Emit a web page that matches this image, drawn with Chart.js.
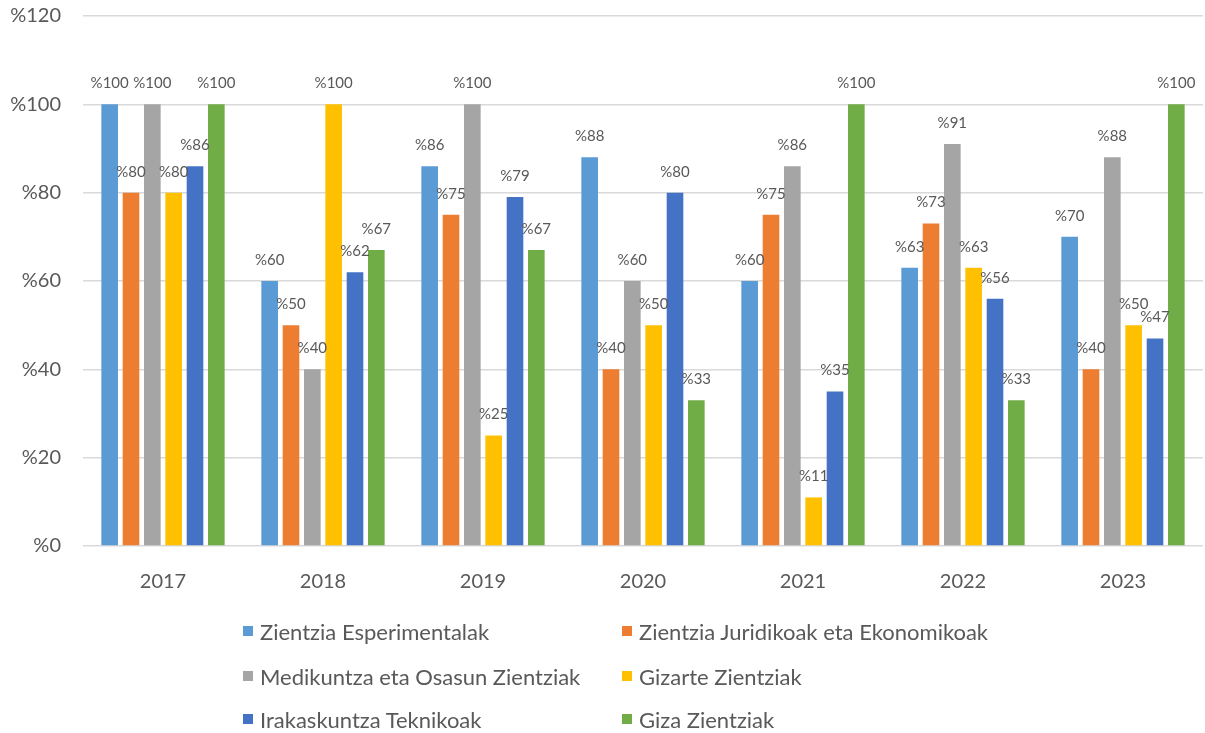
<!DOCTYPE html>
<html>
<head>
<meta charset="utf-8">
<script src="https://cdn.jsdelivr.net/npm/chart.js@4.4.1/dist/chart.umd.min.js"></script>
<style>
  html, body { margin: 0; padding: 0; background: #fff; }
  #wrap { position: relative; width: 1205px; height: 733px; }
  #legend { position: absolute; left: 0; top: 0; width: 1205px; height: 733px; pointer-events: none; }
  .item { position: absolute; display: flex; align-items: center; font-family: Lato, "Open Sans", sans-serif; font-size: 22px; color: #595959; white-space: nowrap; }
  .item span.box { display: inline-block; width: 10px; height: 10px; margin-right: 7px; }
</style>
</head>
<body>
<div id="wrap">
  <canvas id="chart" width="1205" height="733"></canvas>
  <div id="legend"></div>
</div>
<script>
// datos
const years = ['2017', '2018', '2019', '2020', '2021', '2022', '2023'];
const seriesNames = [
  'Zientzia Esperimentalak',
  'Zientzia Juridikoak eta Ekonomikoak',
  'Medikuntza eta Osasun Zientziak',
  'Gizarte Zientziak',
  'Irakaskuntza Teknikoak',
  'Giza Zientziak'
];
const esperimentalak = [100, 60, 86, 88, 60, 63, 70];
const juridikoak     = [80, 50, 75, 40, 75, 73, 40];
const medikuntza     = [100, 40, 100, 60, 86, 91, 88];
const gizarte        = [80, 100, 25, 50, 11, 63, 50];
const irakaskuntza   = [86, 62, 79, 80, 35, 56, 47];
const giza           = [100, 67, 67, 33, 100, 33, 100];
const yTicks = [0, 20, 40, 60, 80, 100, 120];

const colors = ['#5B9BD5', '#ED7D31', '#A5A5A5', '#FFC000', '#4472C4', '#70AD47'];
const allSeries = [esperimentalak, juridikoak, medikuntza, gizarte, irakaskuntza, giza];

const textColor = '#595959';
const fontFamily = 'Lato, "Open Sans", sans-serif';

// etiquetas de valor encima de cada barra
const valueLabels = {
  id: 'valueLabels',
  afterDatasetsDraw(chart) {
    const ctx = chart.ctx;
    ctx.save();
    ctx.font = '15px ' + fontFamily;
    ctx.fillStyle = textColor;
    ctx.textAlign = 'center';
    ctx.textBaseline = 'middle';
    chart.data.datasets.forEach((ds, i) => {
      chart.getDatasetMeta(i).data.forEach((bar, j) => {
        ctx.fillText('%' + ds.data[j], bar.x, bar.y - 21);
      });
    });
    ctx.restore();
  }
};

new Chart(document.getElementById('chart'), {
  type: 'bar',
  data: {
    labels: years,
    datasets: allSeries.map((values, i) => ({
      label: seriesNames[i],
      data: values,
      backgroundColor: colors[i],
      categoryPercentage: 0.8,
      barPercentage: 0.78
    }))
  },
  options: {
    responsive: false,
    animation: false,
    layout: { padding: { top: 16, right: 2, left: 0, bottom: 0 } },
    plugins: {
      legend: { display: false },
      tooltip: { enabled: false }
    },
    scales: {
      x: {
        grid: { display: false },
        border: { display: false },
        ticks: { color: textColor, font: { family: fontFamily, size: 20 }, padding: 16 },
        afterFit(scale) { scale.height = 187; }
      },
      y: {
        min: 0,
        max: 120,
        afterBuildTicks(scale) { scale.ticks = yTicks.map(v => ({ value: v })); },
        grid: { color: '#D9D9D9', lineWidth: 1.5, drawTicks: false },
        border: { display: false },
        ticks: {
          color: textColor,
          font: { family: fontFamily, size: 20 },
          padding: 22,
          callback: v => '%' + v
        },
        afterFit(scale) {
          scale.width = 83;
          scale.paddingTop = 0;
          scale.paddingBottom = 0;
        }
      }
    }
  },
  plugins: [valueLabels]
});

// leyenda en dos columnas
const legendPos = [
  [243, 631], [622, 631],
  [243, 676], [622, 676],
  [243, 719], [622, 719]
];
const legendEl = document.getElementById('legend');
seriesNames.forEach((name, i) => {
  const div = document.createElement('div');
  div.className = 'item';
  div.style.left = legendPos[i][0] + 'px';
  div.style.top = (legendPos[i][1] - 14) + 'px';
  div.style.height = '28px';
  div.innerHTML = '<span class="box" style="background:' + colors[i] + '"></span>' + name;
  legendEl.appendChild(div);
});
</script>
</body>
</html>
